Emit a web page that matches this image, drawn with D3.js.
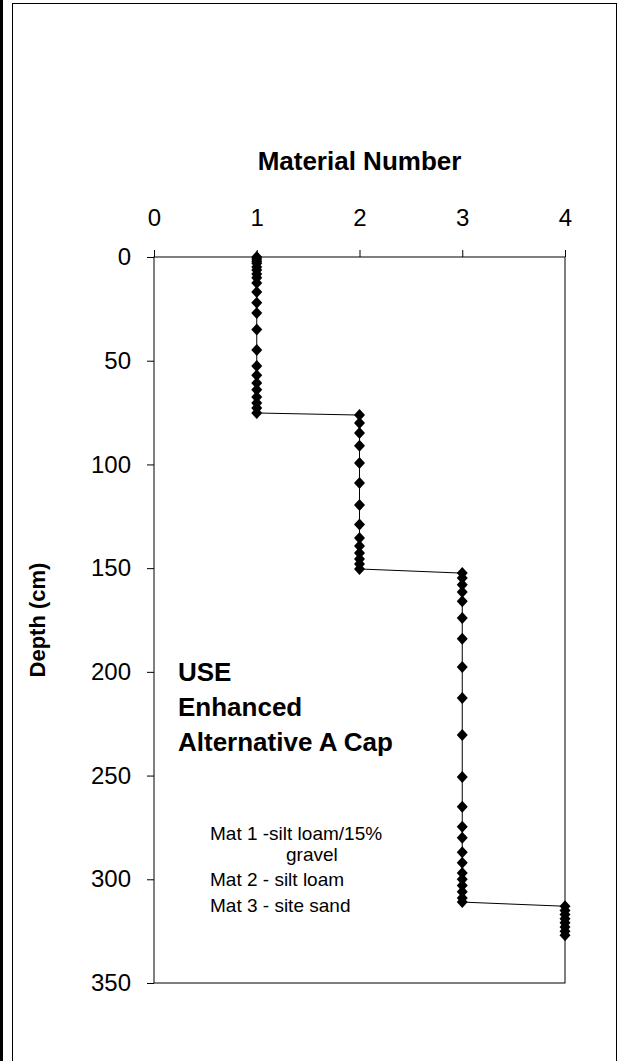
<!DOCTYPE html>
<html>
<head>
<meta charset="utf-8">
<script src="https://cdn.jsdelivr.net/npm/d3@7"></script>
<style>
  body { margin: 0; background: #fff; }
  svg { display: block; font-family: Arial, "Liberation Sans", sans-serif; }
</style>
</head>
<body>
<div id="chart"></div>
<script>
// material number by depth (cm)
const mat1Depth = [0, 1, 2, 3, 4.8, 6.3, 8.2, 10, 12.5, 16.9, 22, 27, 35, 44.8, 52.6, 57, 60.8, 64, 67.5, 70.4, 72.8, 75.2];
const mat2Depth = [76.2, 80, 84.9, 91, 99.3, 109, 119.6, 129, 135.5, 139.3, 142.7, 145.6, 148, 150.4];
const mat3Depth = [152.4, 154.8, 158, 161.5, 166, 174, 184, 197.7, 212.6, 230.5, 250.7, 265, 274.7, 280, 287, 292, 297, 300, 303, 306, 309, 311];
const mat4Depth = [313, 315, 317, 319, 321, 323, 325, 327];

const xTicks = [0, 1, 2, 3, 4];
const yTicks = [0, 50, 100, 150, 200, 250, 300, 350];

const noteLines = ["USE", "Enhanced", "Alternative A Cap"];
const legendLines = ["Mat 1 -silt loam/15%", "gravel", "Mat 2 - silt loam", "Mat 3 - site sand"];

const points = [
  ...mat1Depth.map(d => ({ mat: 1, depth: d })),
  ...mat2Depth.map(d => ({ mat: 2, depth: d })),
  ...mat3Depth.map(d => ({ mat: 3, depth: d })),
  ...mat4Depth.map(d => ({ mat: 4, depth: d }))
];

const width = 625;
const height = 1061;

const svg = d3.select("#chart")
  .append("svg")
  .attr("width", width)
  .attr("height", height);

// outer frame
svg.append("rect").attr("x", 0).attr("y", 0).attr("width", 3).attr("height", height).attr("fill", "#000");
svg.append("rect")
  .attr("x", 12.5).attr("y", 3.5)
  .attr("width", 604).attr("height", height + 10)
  .attr("fill", "none").attr("stroke", "#000").attr("stroke-width", 1);

const x = d3.scaleLinear().domain([0, 4]).range([154, 565]);
const y = d3.scaleLinear().domain([0, 350]).range([257, 983]);

// plot box
svg.append("rect")
  .attr("x", x(0)).attr("y", y(0))
  .attr("width", x(4) - x(0)).attr("height", y(350) - y(0))
  .attr("fill", "none").attr("stroke", "#000").attr("stroke-width", 1);

// top axis
const xAxis = svg.append("g")
  .attr("transform", `translate(0,${y(0)})`)
  .call(d3.axisTop(x).tickValues(xTicks).tickFormat(d3.format("d")).tickSize(7).tickPadding(24));
xAxis.select(".domain").remove();
xAxis.selectAll("text").attr("font-size", 24).attr("fill", "#000").attr("font-family", "Arial, 'Liberation Sans', sans-serif");

// left axis
const yAxis = svg.append("g")
  .attr("transform", `translate(${x(0)},0)`)
  .call(d3.axisLeft(y).tickValues(yTicks).tickFormat(d3.format("d")).tickSize(7).tickPadding(16));
yAxis.select(".domain").remove();
yAxis.selectAll("text").attr("font-size", 24).attr("fill", "#000").attr("font-family", "Arial, 'Liberation Sans', sans-serif");

// axis titles
svg.append("text")
  .attr("x", (x(0) + x(4)) / 2).attr("y", 170)
  .attr("text-anchor", "middle")
  .attr("font-size", 26).attr("font-weight", "bold")
  .text("Material Number");

svg.append("text")
  .attr("transform", "translate(45,620) rotate(-90)")
  .attr("text-anchor", "middle")
  .attr("font-size", 22).attr("font-weight", "bold")
  .text("Depth (cm)");

// profile line
const line = d3.line().x(d => x(d.mat)).y(d => y(d.depth));
svg.append("path")
  .datum(points)
  .attr("d", line)
  .attr("fill", "none")
  .attr("stroke", "#000")
  .attr("stroke-width", 1);

// diamond markers
svg.append("g")
  .selectAll("path")
  .data(points)
  .join("path")
  .attr("transform", d => `translate(${x(d.mat)},${y(d.depth)})`)
  .attr("d", "M0,-6L5.5,0L0,6L-5.5,0Z")
  .attr("fill", "#000");

// annotation
svg.append("g")
  .selectAll("text")
  .data(noteLines)
  .join("text")
  .attr("x", 178)
  .attr("y", (d, i) => 681 + i * 35)
  .attr("font-size", 26).attr("font-weight", "bold")
  .text(d => d);

// material legend
const legendX = [210, 286, 210, 210];
const legendY = [840, 861, 886, 912];
svg.append("g")
  .selectAll("text")
  .data(legendLines)
  .join("text")
  .attr("x", (d, i) => legendX[i])
  .attr("y", (d, i) => legendY[i])
  .attr("font-size", 19)
  .text(d => d);
</script>
</body>
</html>
